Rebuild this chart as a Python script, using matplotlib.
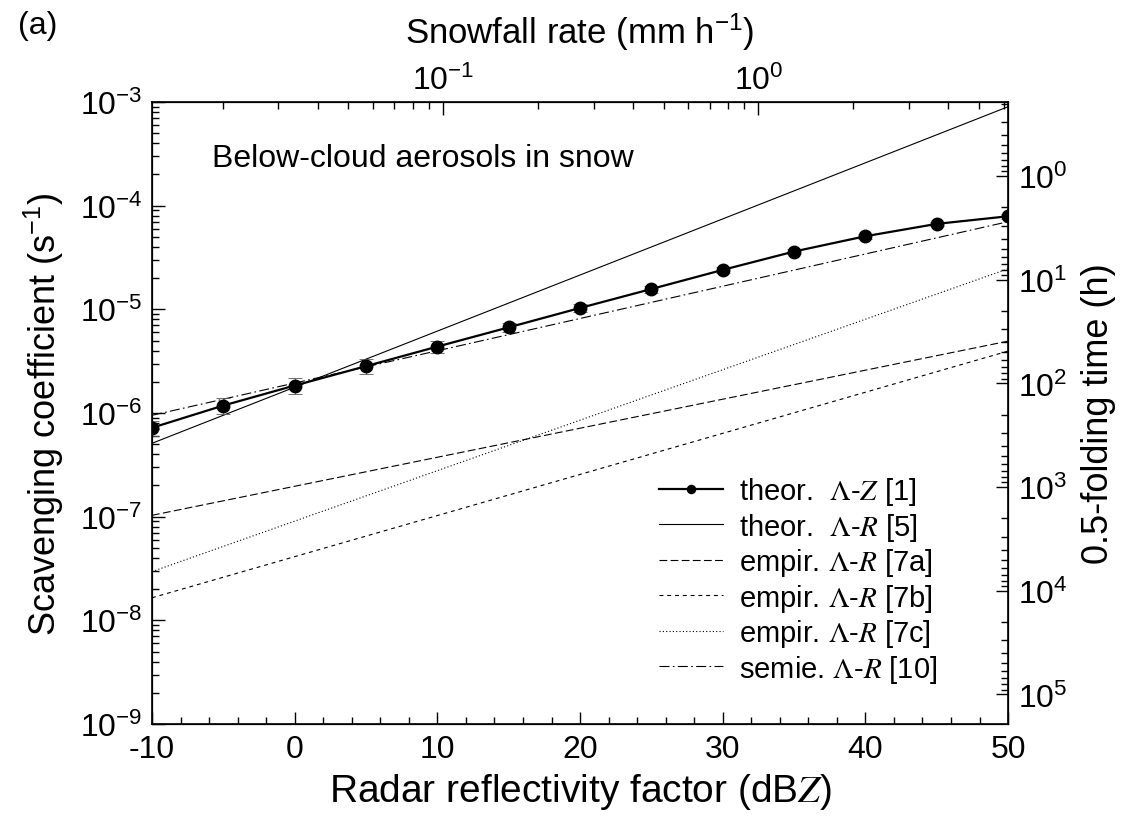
import numpy as np
import matplotlib
matplotlib.use('Agg')
import matplotlib.pyplot as plt
from matplotlib.ticker import (LogLocator, FuncFormatter, MultipleLocator,
                               NullFormatter, FixedLocator)

plt.rcParams['font.family'] = ['Liberation Sans', 'DejaVu Sans']
plt.rcParams['mathtext.fontset'] = 'stix'
plt.rcParams['axes.unicode_minus'] = False

# データ
dbz = [-10, -5, 0, 5, 10, 15, 20, 25, 30, 35, 40, 45, 50]
lam_z = [7.2e-7, 1.18e-6, 1.84e-6, 2.83e-6, 4.37e-6, 6.7e-6, 1.03e-5,
         1.57e-5, 2.40e-5, 3.61e-5, 5.07e-5, 6.67e-5, 7.9e-5]
err_rel = [0.17, 0.17, 0.18, 0.16, 0.13, 0.10, 0.09, 0.08, 0.07, 0.06, 0.06, 0.05, 0.05]

dbz_ends = [-10, 50]
lam_r5 = [5.1e-7, 9.0e-4]
lam_r7a = [1.03e-7, 4.93e-6]
lam_r7b = [1.65e-8, 3.95e-6]
lam_r7c = [2.95e-8, 2.46e-5]
lam_r10 = [9.5e-7, 7.0e-5]

# 目盛り
lam_ticks = [1e-9, 1e-8, 1e-7, 1e-6, 1e-5, 1e-4, 1e-3]
rate_ticks = [1e-1, 1e0]
time_ticks = [1e0, 1e1, 1e2, 1e3, 1e4, 1e5]

# Z-R 関係 (雪): Z = a R^b
a_zr, b_zr = 1780.0, 2.21


def dbz_to_r(x):
    return 10 ** ((np.asarray(x) - 10 * np.log10(a_zr)) / (10 * b_zr))


def lam_to_t(lam):
    return np.log(2) / np.asarray(lam) / 3600.0


def pow10_fmt(v, pos):
    e = int(np.round(np.log10(v)))
    return r'$\mathregular{10^{%d}}$' % e


TICK_FS = 23

fig = plt.figure(figsize=(11.32, 8.2), dpi=100)
ax = fig.add_axes([0.1343, 0.1159, 0.7562, 0.7585])

yerr = np.array(lam_z) * np.array(err_rel)
ax.errorbar(dbz, lam_z, yerr=yerr, fmt='none', ecolor='0.35', elinewidth=0.6,
            capsize=5, capthick=0.6, zorder=3)
ax.plot(dbz, lam_z, 'k-', linewidth=1.6, marker='o', markersize=9,
        label=r'theor.  $\Lambda$-$Z$ [1]', zorder=4)
ax.plot(dbz_ends, lam_r5, 'k-', linewidth=0.8, label=r'theor.  $\Lambda$-$R$ [5]')
ax.plot(dbz_ends, lam_r7a, color='k', linewidth=0.8, linestyle=(0, (7, 3)),
        label=r'empir. $\Lambda$-$R$ [7a]')
ax.plot(dbz_ends, lam_r7b, color='k', linewidth=0.8, linestyle=(0, (3.5, 3.5)),
        label=r'empir. $\Lambda$-$R$ [7b]')
ax.plot(dbz_ends, lam_r7c, color='k', linewidth=0.8, linestyle=(0, (1, 2)),
        label=r'empir. $\Lambda$-$R$ [7c]')
ax.plot(dbz_ends, lam_r10, color='k', linewidth=0.8, linestyle=(0, (9, 3, 1.5, 3)),
        label=r'semie. $\Lambda$-$R$ [10]')

ax.set_xlim(-10, 50)
ax.set_ylim(1e-9, 1e-3)
ax.set_yscale('log')
ax.xaxis.set_major_locator(MultipleLocator(10))
ax.xaxis.set_minor_locator(MultipleLocator(2))
ax.yaxis.set_major_locator(FixedLocator(lam_ticks))
ax.yaxis.set_minor_locator(LogLocator(base=10, subs=np.arange(2, 10), numticks=100))
ax.yaxis.set_major_formatter(FuncFormatter(pow10_fmt))
ax.yaxis.set_minor_formatter(NullFormatter())
ax.tick_params(which='both', direction='in', labelsize=TICK_FS, width=1)
ax.tick_params(which='major', length=9, pad=7)
ax.tick_params(which='minor', length=5)
for s in ax.spines.values():
    s.set_linewidth(1.2)

ax.set_xlabel(r'Radar reflectivity factor (dB$Z$)', fontsize=28, labelpad=5)
ax.set_ylabel(r'Scavenging coefficient (s$\mathregular{^{-1}}$)', fontsize=26, labelpad=10)

# 上軸: 降雪強度
ax_top = ax.twiny()
ax_top.set_xscale('log')
ax_top.set_xlim(dbz_to_r(-10), dbz_to_r(50))
ax_top.xaxis.set_major_locator(FixedLocator(rate_ticks))
ax_top.xaxis.set_minor_locator(LogLocator(base=10, subs=np.arange(2, 10), numticks=100))
ax_top.xaxis.set_major_formatter(FuncFormatter(pow10_fmt))
ax_top.xaxis.set_minor_formatter(NullFormatter())
ax_top.tick_params(which='both', direction='in', labelsize=TICK_FS, width=1)
ax_top.tick_params(which='major', length=9, pad=4)
ax_top.tick_params(which='minor', length=5)
ax_top.set_xlabel(r'Snowfall rate (mm h$\mathregular{^{-1}}$)', fontsize=25, labelpad=16)

# 右軸: 0.5-folding time
ax_r = ax.twinx()
ax_r.set_yscale('log')
ax_r.set_ylim(lam_to_t(1e-9), lam_to_t(1e-3))
ax_r.yaxis.set_major_locator(FixedLocator(time_ticks))
ax_r.yaxis.set_minor_locator(LogLocator(base=10, subs=np.arange(2, 10), numticks=100))
ax_r.yaxis.set_major_formatter(FuncFormatter(pow10_fmt))
ax_r.yaxis.set_minor_formatter(NullFormatter())
ax_r.tick_params(which='both', direction='in', labelsize=TICK_FS, width=1)
ax_r.tick_params(which='major', length=9, pad=7)
ax_r.tick_params(which='minor', length=5)
ax_r.set_ylabel('0.5-folding time (h)', fontsize=26, labelpad=10)

ax.text(0.07, 0.91, 'Below-cloud aerosols in snow', transform=ax.transAxes,
        fontsize=23, va='center', ha='left')
fig.text(0.016, 0.968, '(a)', fontsize=23, va='center', ha='left')

leg = ax.legend(loc='upper left', bbox_to_anchor=(0.592, 0.40), frameon=False,
                fontsize=21, handlelength=2.2, handletextpad=0.55, labelspacing=0.12,
                borderpad=0, borderaxespad=0, markerscale=0.65)

fig.savefig('out.png', dpi=100)
